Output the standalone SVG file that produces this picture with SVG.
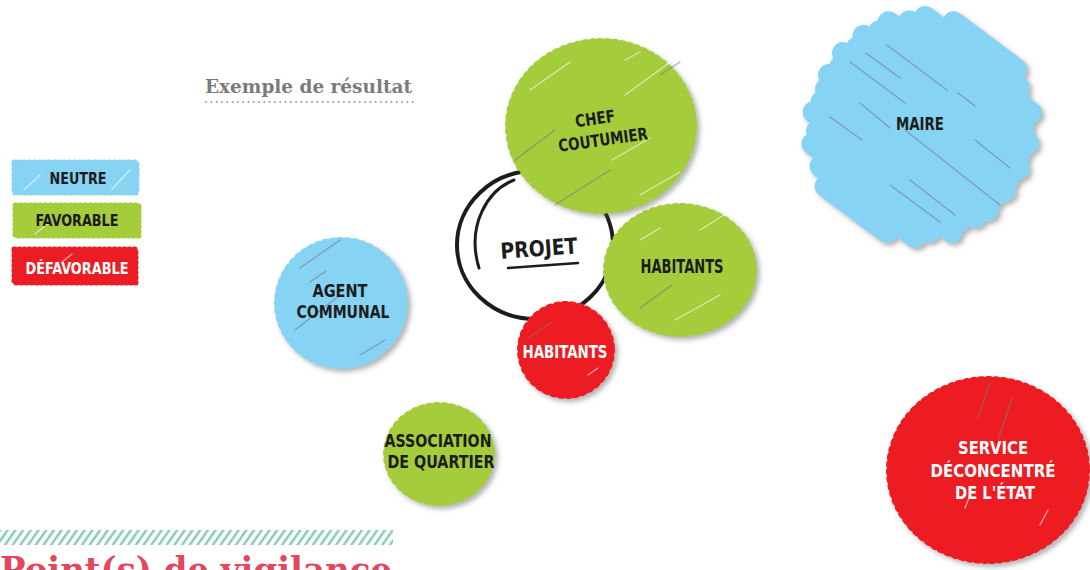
<svg xmlns="http://www.w3.org/2000/svg" width="1090" height="570" viewBox="0 0 1090 570">
<defs>
<style>
.blue{fill:#86d3f4;stroke:#86d3f4}
.green{fill:#a4cc3b;stroke:#a4cc3b}
.red{fill:#ec1c24;stroke:#ec1c24}
.blob{stroke-width:8;stroke-dasharray:1.5 6;stroke-linecap:round;filter:url(#sh)}
.lg{stroke-width:5;stroke-dasharray:1 4;stroke-linecap:round}
.scrib line{stroke:#86d3f4;stroke-width:22;stroke-linecap:round}
.lbl{font-family:"DejaVu Sans Condensed","DejaVu Sans","Liberation Sans",sans-serif;font-weight:bold;fill:#1c1c1c;text-anchor:middle}
.w{fill:#ffffff}
.st{stroke:#7c7c7c;stroke-width:1.3;stroke-opacity:.6;stroke-linecap:round}
.sw{stroke:#ffffff;stroke-width:1.3;stroke-opacity:.6;stroke-linecap:round}
.title{font-family:"DejaVu Serif","Liberation Serif",serif;font-weight:bold;fill:#7b7b7d}
</style>
<filter id="sh" x="-20%" y="-20%" width="140%" height="140%">
<feDropShadow dx="3" dy="3" stdDeviation="2.5" flood-color="#555" flood-opacity="0.45"/>
</filter>
<pattern id="hatch" width="7.7" height="16" patternUnits="userSpaceOnUse" patternTransform="skewX(-35)">
<rect x="0" y="0" width="3.2" height="16" fill="#8fd0b5"/>
</pattern>
</defs>

<!-- title -->
<g id="title">
<text class="title" x="205" y="93" font-size="18" textLength="207" lengthAdjust="spacingAndGlyphs">Exemple de résultat</text>
<line x1="206" y1="102" x2="414" y2="102" stroke="#9a9a9a" stroke-width="1.8" stroke-dasharray="0.1 5.2" stroke-linecap="round"/>
</g>

<!-- legend -->
<g id="legend-neutre">
<rect class="blue lg" x="14" y="162" width="123" height="31"/>
<line class="sw" x1="24" y1="190" x2="40" y2="175"/>
<line class="sw" x1="112" y1="189" x2="130" y2="170"/>
<text class="lbl" x="78" y="184" font-size="15" textLength="57" lengthAdjust="spacingAndGlyphs">NEUTRE</text>
</g>
<g id="legend-favorable">
<rect class="green lg" x="15" y="205" width="124" height="31"/>
<line class="sw" x1="35" y1="234" x2="50" y2="222"/>
<text class="lbl" x="77" y="226" font-size="15" textLength="83" lengthAdjust="spacingAndGlyphs">FAVORABLE</text>
</g>
<g id="legend-defavorable">
<rect class="red lg" x="14" y="249" width="122" height="34"/>
<line class="sw" x1="62" y1="262" x2="72" y2="254"/>
<text class="lbl w" x="77" y="274" font-size="15" textLength="103" lengthAdjust="spacingAndGlyphs">DÉFAVORABLE</text>
</g>

<!-- projet -->
<g id="projet">
<ellipse cx="535" cy="245" rx="78" ry="74" fill="none" stroke="#1c1c1c" stroke-width="4"/>
<path d="M514,180 C488,190 466,225 479,268" fill="none" stroke="#1c1c1c" stroke-width="3" stroke-linecap="round"/>
<text class="lbl" x="539" y="256" font-size="22" textLength="77" lengthAdjust="spacingAndGlyphs" transform="rotate(-4 539 250)">PROJET</text>
<path d="M508,268 L578,263" stroke="#1c1c1c" stroke-width="2.6" stroke-linecap="round"/>
</g>

<!-- habitants (favorable) -->
<g id="habitants-vert">
<ellipse class="green blob" cx="680" cy="270" rx="73" ry="63"/>
<line class="sw" x1="640" y1="240" x2="660" y2="228"/>
<line class="sw" x1="700" y1="230" x2="740" y2="205"/>
<line class="st" x1="640" y1="308" x2="672" y2="285"/>
<line class="sw" x1="675" y1="320" x2="720" y2="295"/>
<text class="lbl" x="682" y="273" font-size="19" textLength="83" lengthAdjust="spacingAndGlyphs">HABITANTS</text>
</g>

<!-- chef coutumier -->
<g id="chef-coutumier">
<ellipse class="green blob" cx="601" cy="126" rx="92" ry="84"/>
<line class="sw" x1="530" y1="90" x2="570" y2="62"/>
<line class="sw" x1="625" y1="60" x2="640" y2="52"/>
<line class="st" x1="660" y1="75" x2="680" y2="62"/>
<line class="sw" x1="625" y1="95" x2="680" y2="55"/>
<line class="st" x1="515" y1="160" x2="555" y2="130"/>
<line class="sw" x1="612" y1="160" x2="650" y2="138"/>
<line class="st" x1="555" y1="205" x2="610" y2="170"/>
<line class="sw" x1="640" y1="195" x2="680" y2="172"/>
<g transform="rotate(-8 600 132)">
<text class="lbl" x="597" y="124" font-size="17" textLength="40" lengthAdjust="spacingAndGlyphs">CHEF</text>
<text class="lbl" x="602" y="146" font-size="17" textLength="90" lengthAdjust="spacingAndGlyphs">COUTUMIER</text>
</g>
</g>

<!-- habitants (defavorable) -->
<g id="habitants-rouge">
<circle class="red blob" cx="566" cy="350" r="45"/>
<line class="st" x1="528" y1="338" x2="552" y2="322"/>
<line class="sw" x1="588" y1="375" x2="598" y2="368"/>
<text class="lbl w" x="565" y="358" font-size="17" textLength="85" lengthAdjust="spacingAndGlyphs">HABITANTS</text>
</g>

<!-- agent communal -->
<g id="agent-communal">
<ellipse class="blue blob" cx="341" cy="303" rx="63" ry="62"/>
<line class="st" x1="300" y1="268" x2="340" y2="240"/>
<line class="st" x1="310" y1="282" x2="326" y2="271"/>
<line class="st" x1="295" y1="330" x2="340" y2="295"/>
<line class="st" x1="360" y1="355" x2="385" y2="340"/>
<text class="lbl" x="340" y="297" font-size="17" textLength="55" lengthAdjust="spacingAndGlyphs">AGENT</text>
<text class="lbl" x="343" y="318" font-size="17" textLength="93" lengthAdjust="spacingAndGlyphs">COMMUNAL</text>
</g>

<!-- association de quartier -->
<g id="association-quartier">
<ellipse class="green blob" cx="439" cy="454" rx="52" ry="48"/>
<text class="lbl" x="438" y="447" font-size="17" textLength="107" lengthAdjust="spacingAndGlyphs">ASSOCIATION</text>
<text class="lbl" x="441" y="468" font-size="17" textLength="107" lengthAdjust="spacingAndGlyphs">DE QUARTIER</text>
</g>

<!-- maire -->
<g id="maire">
<g class="scrib" filter="url(#sh)">
<ellipse cx="922" cy="127" rx="112" ry="110" fill="#86d3f4"/>
<line x1="953.6" y1="22.2" x2="1016" y2="69"/>
<line x1="925" y1="17" x2="1018.6" y2="87.2"/>
<line x1="909.2" y1="21.4" x2="1030.8" y2="112.6"/>
<line x1="888.6" y1="22.2" x2="1023" y2="123"/>
<line x1="879.2" y1="31.4" x2="1028" y2="143"/>
<line x1="863.4" y1="35.8" x2="1018.6" y2="152.2"/>
<line x1="857.2" y1="47.4" x2="1018.8" y2="168.6"/>
<line x1="843" y1="53" x2="1007.8" y2="176.6"/>
<line x1="840" y1="67" x2="1004.8" y2="190.6"/>
<line x1="829" y1="75" x2="990.6" y2="196.2"/>
<line x1="826" y1="89" x2="987.6" y2="210.2"/>
<line x1="821.4" y1="101.8" x2="975" y2="217"/>
<line x1="813.6" y1="112.2" x2="959.2" y2="221.4"/>
<line x1="817" y1="131" x2="951.4" y2="231.8"/>
<line x1="812.4" y1="143.8" x2="929.2" y2="231.4"/>
<line x1="820.6" y1="166.2" x2="915" y2="237"/>
<line x1="825.6" y1="186.2" x2="886.4" y2="231.8"/>
</g>
<line class="st" x1="850" y1="62" x2="905" y2="103"/>
<line class="st" x1="887" y1="45" x2="947" y2="90"/>
<line class="st" x1="866" y1="53" x2="900" y2="78"/>
<line class="st" x1="860" y1="103" x2="890" y2="128"/>
<line class="st" x1="830" y1="117" x2="862" y2="140"/>
<line class="st" x1="905" y1="130" x2="1000" y2="205"/>
<line class="st" x1="958" y1="93" x2="975" y2="106"/>
<line class="st" x1="975" y1="140" x2="1010" y2="168"/>
<line class="st" x1="890" y1="185" x2="940" y2="222"/>
<line class="st" x1="910" y1="180" x2="955" y2="215"/>
<text class="lbl" x="920" y="130" font-size="18" textLength="48" lengthAdjust="spacingAndGlyphs">MAIRE</text>
</g>

<!-- service deconcentre de l'etat -->
<g id="service-deconcentre">
<ellipse class="red blob" cx="988" cy="470" rx="98" ry="90"/>
<line class="st" x1="978" y1="418" x2="990" y2="383"/>
<line class="st" x1="998" y1="440" x2="1012" y2="398"/>
<line class="sw" x1="965" y1="508" x2="970" y2="495"/>
<line class="sw" x1="1040" y1="525" x2="1048" y2="510"/>
<text class="lbl w" x="993" y="454" font-size="17" textLength="70" lengthAdjust="spacingAndGlyphs">SERVICE</text>
<text class="lbl w" x="993" y="477" font-size="17" textLength="125" lengthAdjust="spacingAndGlyphs">DÉCONCENTRÉ</text>
<text class="lbl w" x="995" y="499" font-size="17" textLength="80" lengthAdjust="spacingAndGlyphs">DE L'ÉTAT</text>
</g>

<!-- bottom heading -->
<g id="vigilance">
<rect x="0" y="530" width="393" height="15" fill="url(#hatch)"/>
<text x="0" y="582" font-family="'DejaVu Serif','Liberation Serif',serif" font-weight="bold" font-size="36" fill="#e0495d" textLength="392" lengthAdjust="spacingAndGlyphs">Point(s) de vigilance</text>
</g>
</svg>
